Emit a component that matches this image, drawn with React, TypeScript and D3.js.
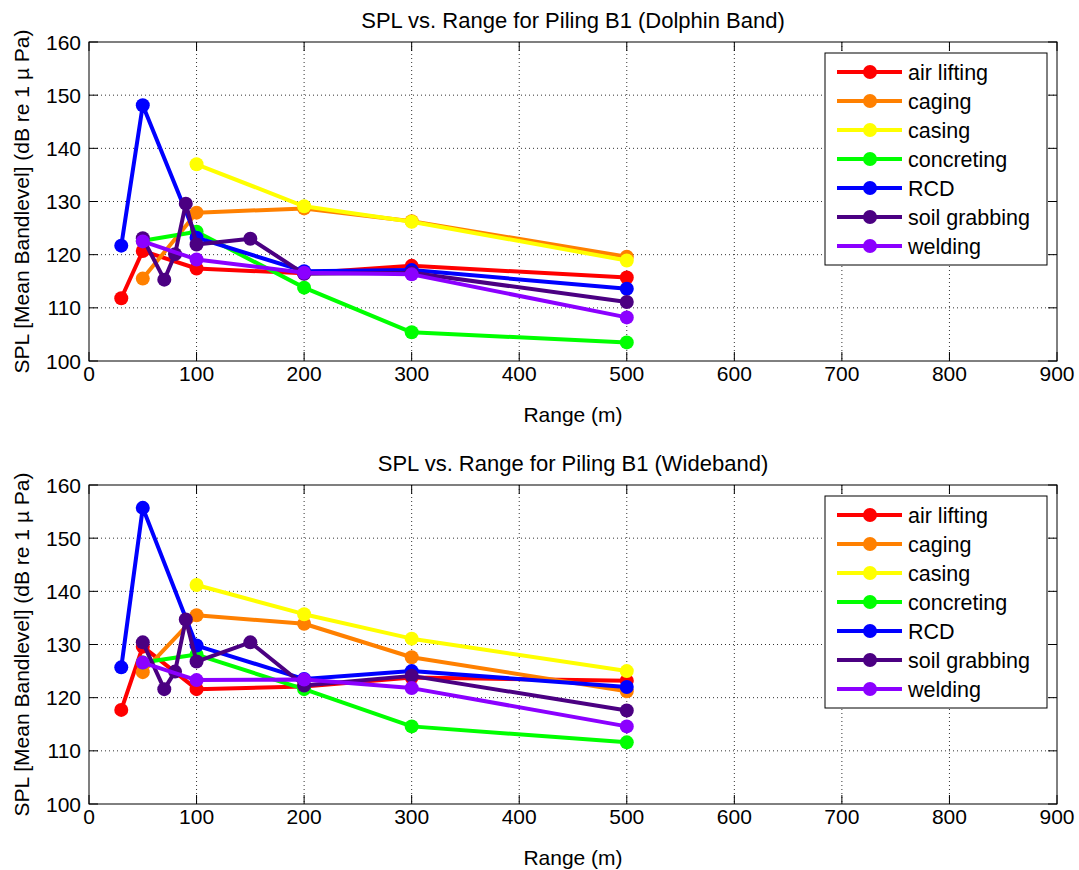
import React from "react";
import * as d3 from "d3";

const seriesNames = ["air lifting", "caging", "casing", "concreting", "RCD", "soil grabbing", "welding"];
const seriesColors = ["#FF0000", "#FF8000", "#FFFF00", "#00FF00", "#0000FF", "#4B0082", "#8B00FF"];

const airRange = [30, 50, 100, 200, 300, 500];
const cagingRange = [50, 100, 200, 300, 500];
const casingRange = [100, 200, 300, 500];
const concretingRange = [50, 100, 200, 300, 500];
const rcdRange = [30, 50, 100, 200, 300, 500];
const soilRange = [50, 70, 80, 90, 100, 150, 200, 300, 500];
const weldingRange = [50, 100, 200, 300, 500];

// Dolphin band values (dB)
const dolphinAir = [111.8, 120.7, 117.4, 116.5, 117.9, 115.7];
const dolphinCaging = [115.5, 127.9, 128.7, 126.3, 119.6];
const dolphinCasing = [137.0, 129.1, 126.2, 118.9];
const dolphinConcreting = [122.6, 124.3, 113.8, 105.4, 103.5];
const dolphinRCD = [121.7, 148.1, 123.2, 116.9, 117.1, 113.6];
const dolphinSoil = [123.1, 115.3, 120.1, 129.6, 121.9, 123.0, 116.4, 116.6, 111.1];
const dolphinWelding = [122.5, 119.1, 116.6, 116.3, 108.2];

// Wideband values (dB)
const wideAir = [117.7, 129.6, 121.6, 122.1, 123.8, 123.2];
const wideCaging = [124.8, 135.5, 133.9, 127.6, 121.2];
const wideCasing = [141.2, 135.7, 131.1, 125.0];
const wideConcreting = [126.6, 128.1, 121.6, 114.6, 111.6];
const wideRCD = [125.7, 155.7, 129.8, 123.5, 125.0, 122.0];
const wideSoil = [130.4, 121.6, 124.9, 134.7, 126.8, 130.4, 122.3, 124.1, 117.6];
const wideWelding = [126.6, 123.3, 123.4, 121.8, 114.6];

const xTicks = [0, 100, 200, 300, 400, 500, 600, 700, 800, 900];
const yTicks = [100, 110, 120, 130, 140, 150, 160];

const ranges = [airRange, cagingRange, casingRange, concretingRange, rcdRange, soilRange, weldingRange];
const dolphinValues = [dolphinAir, dolphinCaging, dolphinCasing, dolphinConcreting, dolphinRCD, dolphinSoil, dolphinWelding];
const wideValues = [wideAir, wideCaging, wideCasing, wideConcreting, wideRCD, wideSoil, wideWelding];

const FONT = "'Liberation Sans', Arial, Helvetica, sans-serif";
const TICK_FS = 21;
const TITLE_FS = 22;
const LABEL_FS = 21;
const LEG_FS = 21.5;

type PanelProps = { title: string; top: number; values: number[][] };

function Panel({ title, top, values }: PanelProps) {
  const left = 89, right = 1057, height = 319;
  const bottom = top + height;
  const x = d3.scaleLinear().domain([0, 900]).range([left, right]);
  const y = d3.scaleLinear().domain([100, 160]).range([bottom, top]);
  const line = d3.line<[number, number]>().x(d => x(d[0])).y(d => y(d[1]));
  const tickLen = 9;
  const legX = 825, legY = top + 11, legW = 222, legH = 212;
  return (
    <g>
      <text x={(left + right) / 2} y={top - 14} textAnchor="middle" fontSize={TITLE_FS} fontFamily={FONT}>{title}</text>
      {/* grid */}
      {xTicks.slice(1, -1).map(t => (
        <line key={"gx" + t} x1={x(t)} x2={x(t)} y1={top} y2={bottom} stroke="#333" strokeWidth={1} strokeDasharray="1,3" />
      ))}
      {yTicks.slice(1, -1).map(t => (
        <line key={"gy" + t} x1={left} x2={right} y1={y(t)} y2={y(t)} stroke="#333" strokeWidth={1} strokeDasharray="1,3" />
      ))}
      {/* ticks */}
      {xTicks.map(t => (
        <g key={"tx" + t}>
          <line x1={x(t)} x2={x(t)} y1={bottom} y2={bottom - tickLen} stroke="#000" />
          <line x1={x(t)} x2={x(t)} y1={top} y2={top + tickLen} stroke="#000" />
          <text x={x(t)} y={bottom + 20} textAnchor="middle" fontSize={TICK_FS} fontFamily={FONT}>{t}</text>
        </g>
      ))}
      {yTicks.map(t => (
        <g key={"ty" + t}>
          <line x1={left} x2={left + tickLen} y1={y(t)} y2={y(t)} stroke="#000" />
          <line x1={right} x2={right - tickLen} y1={y(t)} y2={y(t)} stroke="#000" />
          <text x={left - 8} y={y(t) + 7.5} textAnchor="end" fontSize={TICK_FS} fontFamily={FONT}>{t}</text>
        </g>
      ))}
      <rect x={left} y={top} width={right - left} height={height} fill="none" stroke="#000" strokeWidth={1} />
      <text x={(left + right) / 2} y={bottom + 61} textAnchor="middle" fontSize={LABEL_FS} fontFamily={FONT}>Range (m)</text>
      <text transform={`translate(29,${(top + bottom) / 2}) rotate(-90)`} textAnchor="middle" fontSize={LABEL_FS} fontFamily={FONT}>SPL [Mean Bandlevel] (dB re 1 µ Pa)</text>
      {/* series */}
      {values.map((vals, i) => {
        const pts: [number, number][] = ranges[i].map((r, j) => [r, vals[j]]);
        return (
          <g key={"s" + i}>
            <path d={line(pts) || ""} fill="none" stroke={seriesColors[i]} strokeWidth={4} strokeLinejoin="round" />
            {pts.map((p, j) => (
              <circle key={j} cx={x(p[0])} cy={y(p[1])} r={7} fill={seriesColors[i]} />
            ))}
          </g>
        );
      })}
      {/* legend */}
      <rect x={legX} y={legY} width={legW} height={legH} fill="#fff" stroke="#000" strokeWidth={1} />
      {seriesNames.map((n, i) => {
        const ly = legY + 19 + i * 29;
        return (
          <g key={"l" + i}>
            <line x1={837} x2={902} y1={ly} y2={ly} stroke={seriesColors[i]} strokeWidth={4} />
            <circle cx={870} cy={ly} r={7} fill={seriesColors[i]} />
            <text x={908} y={ly + 7.5} fontSize={LEG_FS} fontFamily={FONT}>{n}</text>
          </g>
        );
      })}
    </g>
  );
}

export default function App() {
  return (
    <svg width={1079} height={870} style={{ position: "absolute", left: 0, top: 0, background: "#fff" }}>
      <rect width={1079} height={870} fill="#fff" />
      <Panel title="SPL vs. Range for Piling B1 (Dolphin Band)" top={42} values={dolphinValues} />
      <Panel title="SPL vs. Range for Piling B1 (Wideband)" top={485} values={wideValues} />
    </svg>
  );
}
